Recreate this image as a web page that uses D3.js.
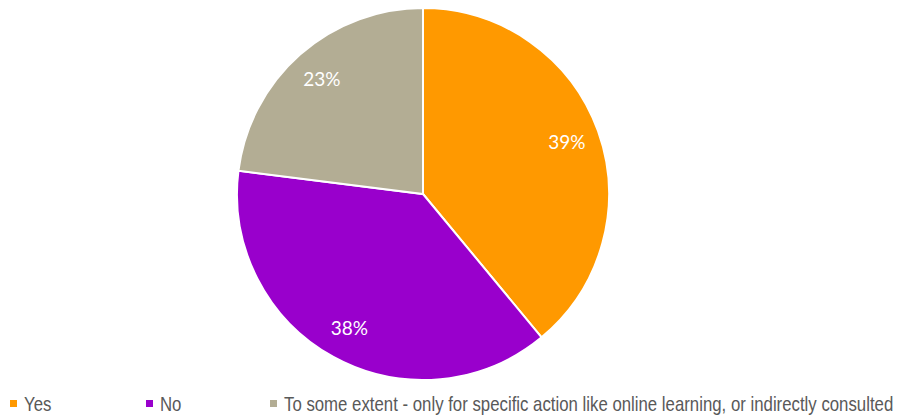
<!DOCTYPE html>
<html>
<head>
  <meta charset="utf-8" />
  <title>Pie</title>
  <style>
    body { margin: 0; background: #fff; }
    svg { display: block; }
  </style>
  <script src="https://d3js.org/d3.v7.min.js"></script>
</head>
<body>
<svg id="chart" width="909" height="416"></svg>
<script>
  var categories = ["Yes", "No", "To some extent - only for specific action like online learning, or indirectly consulted"];
  var values = [39, 38, 23];
  var colours = ["#FF9900", "#9900CC", "#B3AD94"];

  var svg = d3.select("#chart");
  var cx = 423, cy = 194, radius = 186;

  var colour = d3.scaleOrdinal().domain(categories).range(colours);

  var pie = d3.pie().sort(null).value(function (d) { return d.value });
  var arcs = pie(categories.map(function (c, i) { return { label: c, value: values[i] } }));

  var arc = d3.arc().innerRadius(0).outerRadius(radius);
  var labelArc = d3.arc().innerRadius(153).outerRadius(153);

  var g = svg.append("g").attr("transform", "translate(" + cx + "," + cy + ")");

  g.selectAll("path")
    .data(arcs)
    .enter()
    .append("path")
    .attr("d", arc)
    .style("fill", function (d) { return colour(d.data.label) })
    .style("stroke", "#fff")
    .style("stroke-width", 2);

  g.selectAll("text")
    .data(arcs)
    .enter()
    .append("text")
    .attr("transform", function (d) { return "translate(" + labelArc.centroid(d) + ")" })
    .attr("dy", "0.35em")
    .style("text-anchor", "middle")
    .style("font-family", "Lato, sans-serif")
    .style("font-weight", 400)
    .style("font-size", "19px")
    .style("fill", "#fff")
    .text(function (d) { return d.data.value + "%" });

  // legend
  var legendX = [10, 146, 270];
  var legend = svg.selectAll("g.legend")
    .data(categories)
    .enter()
    .append("g")
    .attr("class", "legend")
    .attr("transform", function (d, i) { return "translate(" + legendX[i] + ",404)" });

  legend.append("rect")
    .attr("x", 0)
    .attr("y", -4)
    .attr("width", 7)
    .attr("height", 7)
    .style("fill", function (d) { return colour(d) });

  legend.append("text")
    .attr("transform", "translate(14,0) scale(0.84,1)")
    .attr("dy", "0.35em")
    .style("font-family", "'Liberation Sans Narrow', 'Arial Narrow', 'Liberation Sans', sans-serif")
    .style("font-size", "20px")
    .style("fill", "#595959")
    .text(function (d) { return d });
</script>
</body>
</html>
